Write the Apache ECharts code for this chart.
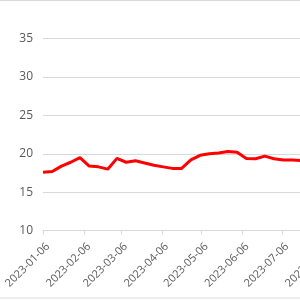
<!DOCTYPE html>
<html>
<head>
<meta charset="utf-8">
<script src="https://cdn.jsdelivr.net/npm/echarts@6/dist/echarts.min.js"></script>
<style>
  html, body { margin: 0; padding: 0; background: #fff; }
  #main { width: 300px; height: 300px; }
</style>
</head>
<body>
<div id="main"></div>
<script>
// weekly dates and values
const dates = [
  '2023-01-06', '2023-01-13', '2023-01-20', '2023-01-27',
  '2023-02-03', '2023-02-10', '2023-02-17', '2023-02-24',
  '2023-03-03', '2023-03-10', '2023-03-17', '2023-03-24', '2023-03-31',
  '2023-04-07', '2023-04-14', '2023-04-21', '2023-04-28',
  '2023-05-05', '2023-05-12', '2023-05-19', '2023-05-26',
  '2023-06-02', '2023-06-09', '2023-06-16', '2023-06-23', '2023-06-30',
  '2023-07-07', '2023-07-14', '2023-07-21'
];
const values = [
  17.6, 17.7, 18.4, 18.9,
  19.5, 18.4, 18.3, 18.0,
  19.4, 18.9, 19.1, 18.8, 18.5,
  18.3, 18.1, 18.1, 19.2,
  19.8, 20.0, 20.1, 20.3,
  20.2, 19.4, 19.35, 19.7, 19.35,
  19.2, 19.2, 19.1
];
// monthly tick labels
const tickDates = [
  '2023-01-06', '2023-02-06', '2023-03-06', '2023-04-06', '2023-05-06',
  '2023-06-06', '2023-07-06', '2023-08-06', '2023-09-06', '2023-10-06',
  '2023-11-06', '2023-12-06'
];

// x axis is counted in days from the first date
const DAY = 86400000;
const ts = s => {
  const p = s.split('-');
  return Date.UTC(+p[0], +p[1] - 1, +p[2]);
};
const t0 = ts(dates[0]);
const dayOf = s => Math.round((ts(s) - t0) / DAY);

const tickVals = tickDates.map(dayOf);
const labelOf = {};
tickDates.forEach((s, i) => { labelOf[tickVals[i]] = s; });

const myChart = echarts.init(document.getElementById('main'));

const option = {
  animation: false,
  grid: {
    left: 43, width: 441, top: 38.4, bottom: 69.3,
    containLabel: false, outerBoundsMode: 'none'
  },
  graphic: [{
    type: 'rect',
    shape: { x: -2, y: 0.5, width: 304, height: 297.5 },
    style: { fill: 'none', stroke: '#d9d9d9', lineWidth: 1 },
    silent: true
  }],
  xAxis: {
    type: 'value',
    min: 0,
    max: dayOf('2023-12-06'),
    splitLine: { show: false },
    axisLine: { lineStyle: { color: '#d9d9d9', width: 1 } },
    axisTick: {
      show: true, length: 4,
      customValues: tickVals,
      lineStyle: { color: '#d9d9d9' }
    },
    axisLabel: {
      customValues: tickVals,
      rotate: 45,
      margin: 19,
      padding: [0, -7, 0, 0],
      color: '#595959',
      fontSize: 11,
      fontFamily: 'Open Sans',
      showMinLabel: true,
      formatter: v => labelOf[Math.round(v)] || ''
    }
  },
  yAxis: {
    type: 'value',
    min: 10,
    max: 35,
    interval: 5,
    axisLine: { show: false },
    axisTick: { show: false },
    splitLine: { lineStyle: { color: '#d9d9d9', width: 1 } },
    axisLabel: { color: '#595959', fontSize: 12, fontFamily: 'Open Sans', margin: 10 }
  },
  series: [{
    type: 'line',
    data: dates.map((d, i) => [dayOf(d), values[i]]),
    showSymbol: false,
    lineStyle: { color: '#ff0000', width: 3 },
    itemStyle: { color: '#ff0000' }
  }]
};
myChart.setOption(option);
</script>
</body>
</html>
